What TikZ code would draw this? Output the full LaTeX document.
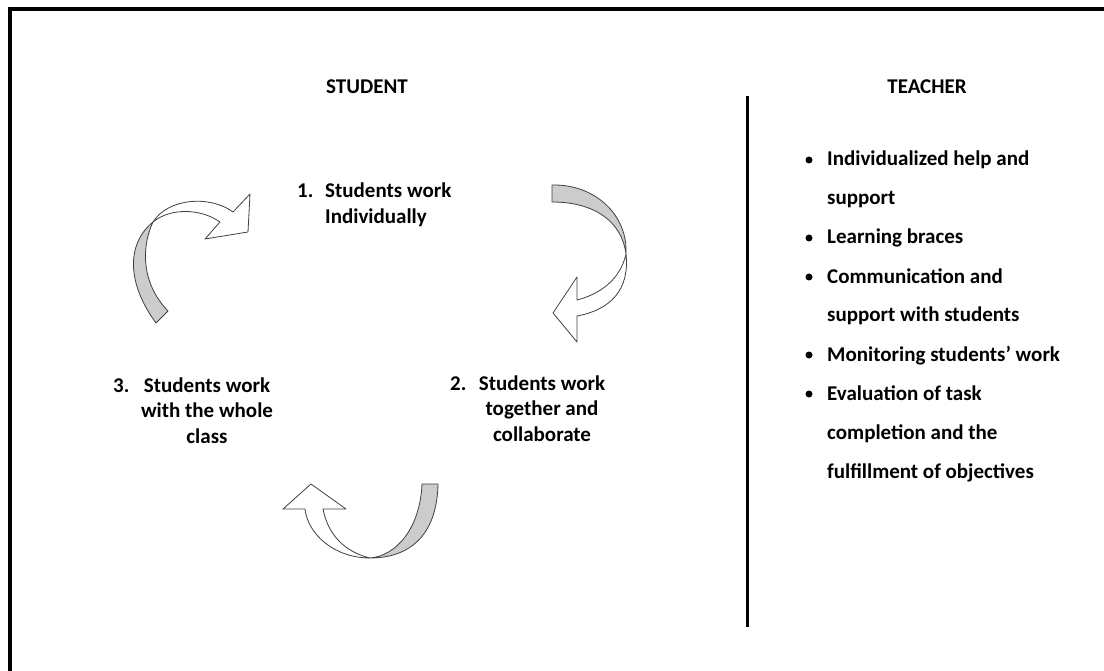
\documentclass[tikz,border=0pt]{standalone}
\usepackage{fontspec}
\setmainfont{Carlito}
\begin{document}
\begin{tikzpicture}[x=1pt, y=-1pt, txt/.style={font=\bfseries\fontsize{21}{25.5}\selectfont, inner sep=0pt}, itm/.style={font=\bfseries\fontsize{21}{39}\selectfont, inner sep=0pt, align=left, anchor=base west}, bul/.style={circle,fill=black,minimum size=7pt,inner sep=0pt}, band/.style={draw=black!75, line width=0.8pt, line join=round}]
\useasboundingbox (0,0) rectangle (1104,671);
\draw[line width=4pt] (10,671) -- (10,9) -- (1104,9);
\draw[line width=3pt] (747,96) -- (747,627);

\node[txt, anchor=base] (stu) at (367,94) {STUDENT};
\node[txt, anchor=base] (tea) at (927,94) {TEACHER};

% multi-line nodes sit on the baseline of their last line
\node[txt, anchor=base west] (n1) at (297,198) {1.};
\node[txt, align=left, anchor=base west] (s1) at (325,223.5) {Students work\\Individually};
\node[txt, anchor=base west] (n2) at (450,390) {2.};
\node[txt, align=center, anchor=base] (s2) at (542,441) {Students work\\together and\\collaborate};
\node[txt, anchor=base west] (n3) at (113,392) {3.};
\node[txt, align=center, anchor=base] (s3) at (207,443) {Students work\\with the whole\\class};

\draw[band, fill=black!20] (156,323) .. controls (128,285) and (125,245) .. (153,222) .. controls (142,245) and (140,282) .. (168,311) -- cycle;
\draw[band, fill=white] (153,222) .. controls (168,198) and (210,195) .. (233,212) -- (250,194) -- (248,232) -- (205,239) -- (220,222) .. controls (200,208) and (170,208) .. (153,222) -- cycle;

\draw[band, fill=black!20] (552,185) .. controls (595,184) and (628,215) .. (626,254) .. controls (622,222) and (595,202) .. (552,202) -- cycle;
\draw[band, fill=white] (626,254) .. controls (630,290) and (610,310) .. (577,316) -- (577,342) -- (553,313) -- (577,277) -- (577,300) .. controls (600,294) and (620,280) .. (626,254) -- cycle;

\draw[band, fill=black!20] (422,484) -- (438,484) .. controls (437,535) and (410,558) .. (370,558) .. controls (395,556) and (420,530) .. (422,484) -- cycle;
\draw[band, fill=white] (370,558) .. controls (335,558) and (308,535) .. (305,509) -- (283,509) -- (311,484) -- (346,509) -- (323,509) .. controls (328,535) and (345,552) .. (370,558) -- cycle;

\node[itm] (t1) at (827,205) {Individualized help and\\support};
\node[itm] (t2) at (827,244) {Learning braces};
\node[itm] (t3) at (827,322) {Communication and\\support with students};
\node[itm] (t4) at (827,361) {Monitoring students’ work};
\node[itm] (t5) at (827,478) {Evaluation of task\\completion and the\\fulfillment of objectives};
\foreach \n/\k in {t1/1,t2/0,t3/1,t4/0,t5/2}
  \node[bul] at ([xshift=-18pt,yshift={6pt+\k*39pt}]\n.base west) {};
\end{tikzpicture}
\end{document}
